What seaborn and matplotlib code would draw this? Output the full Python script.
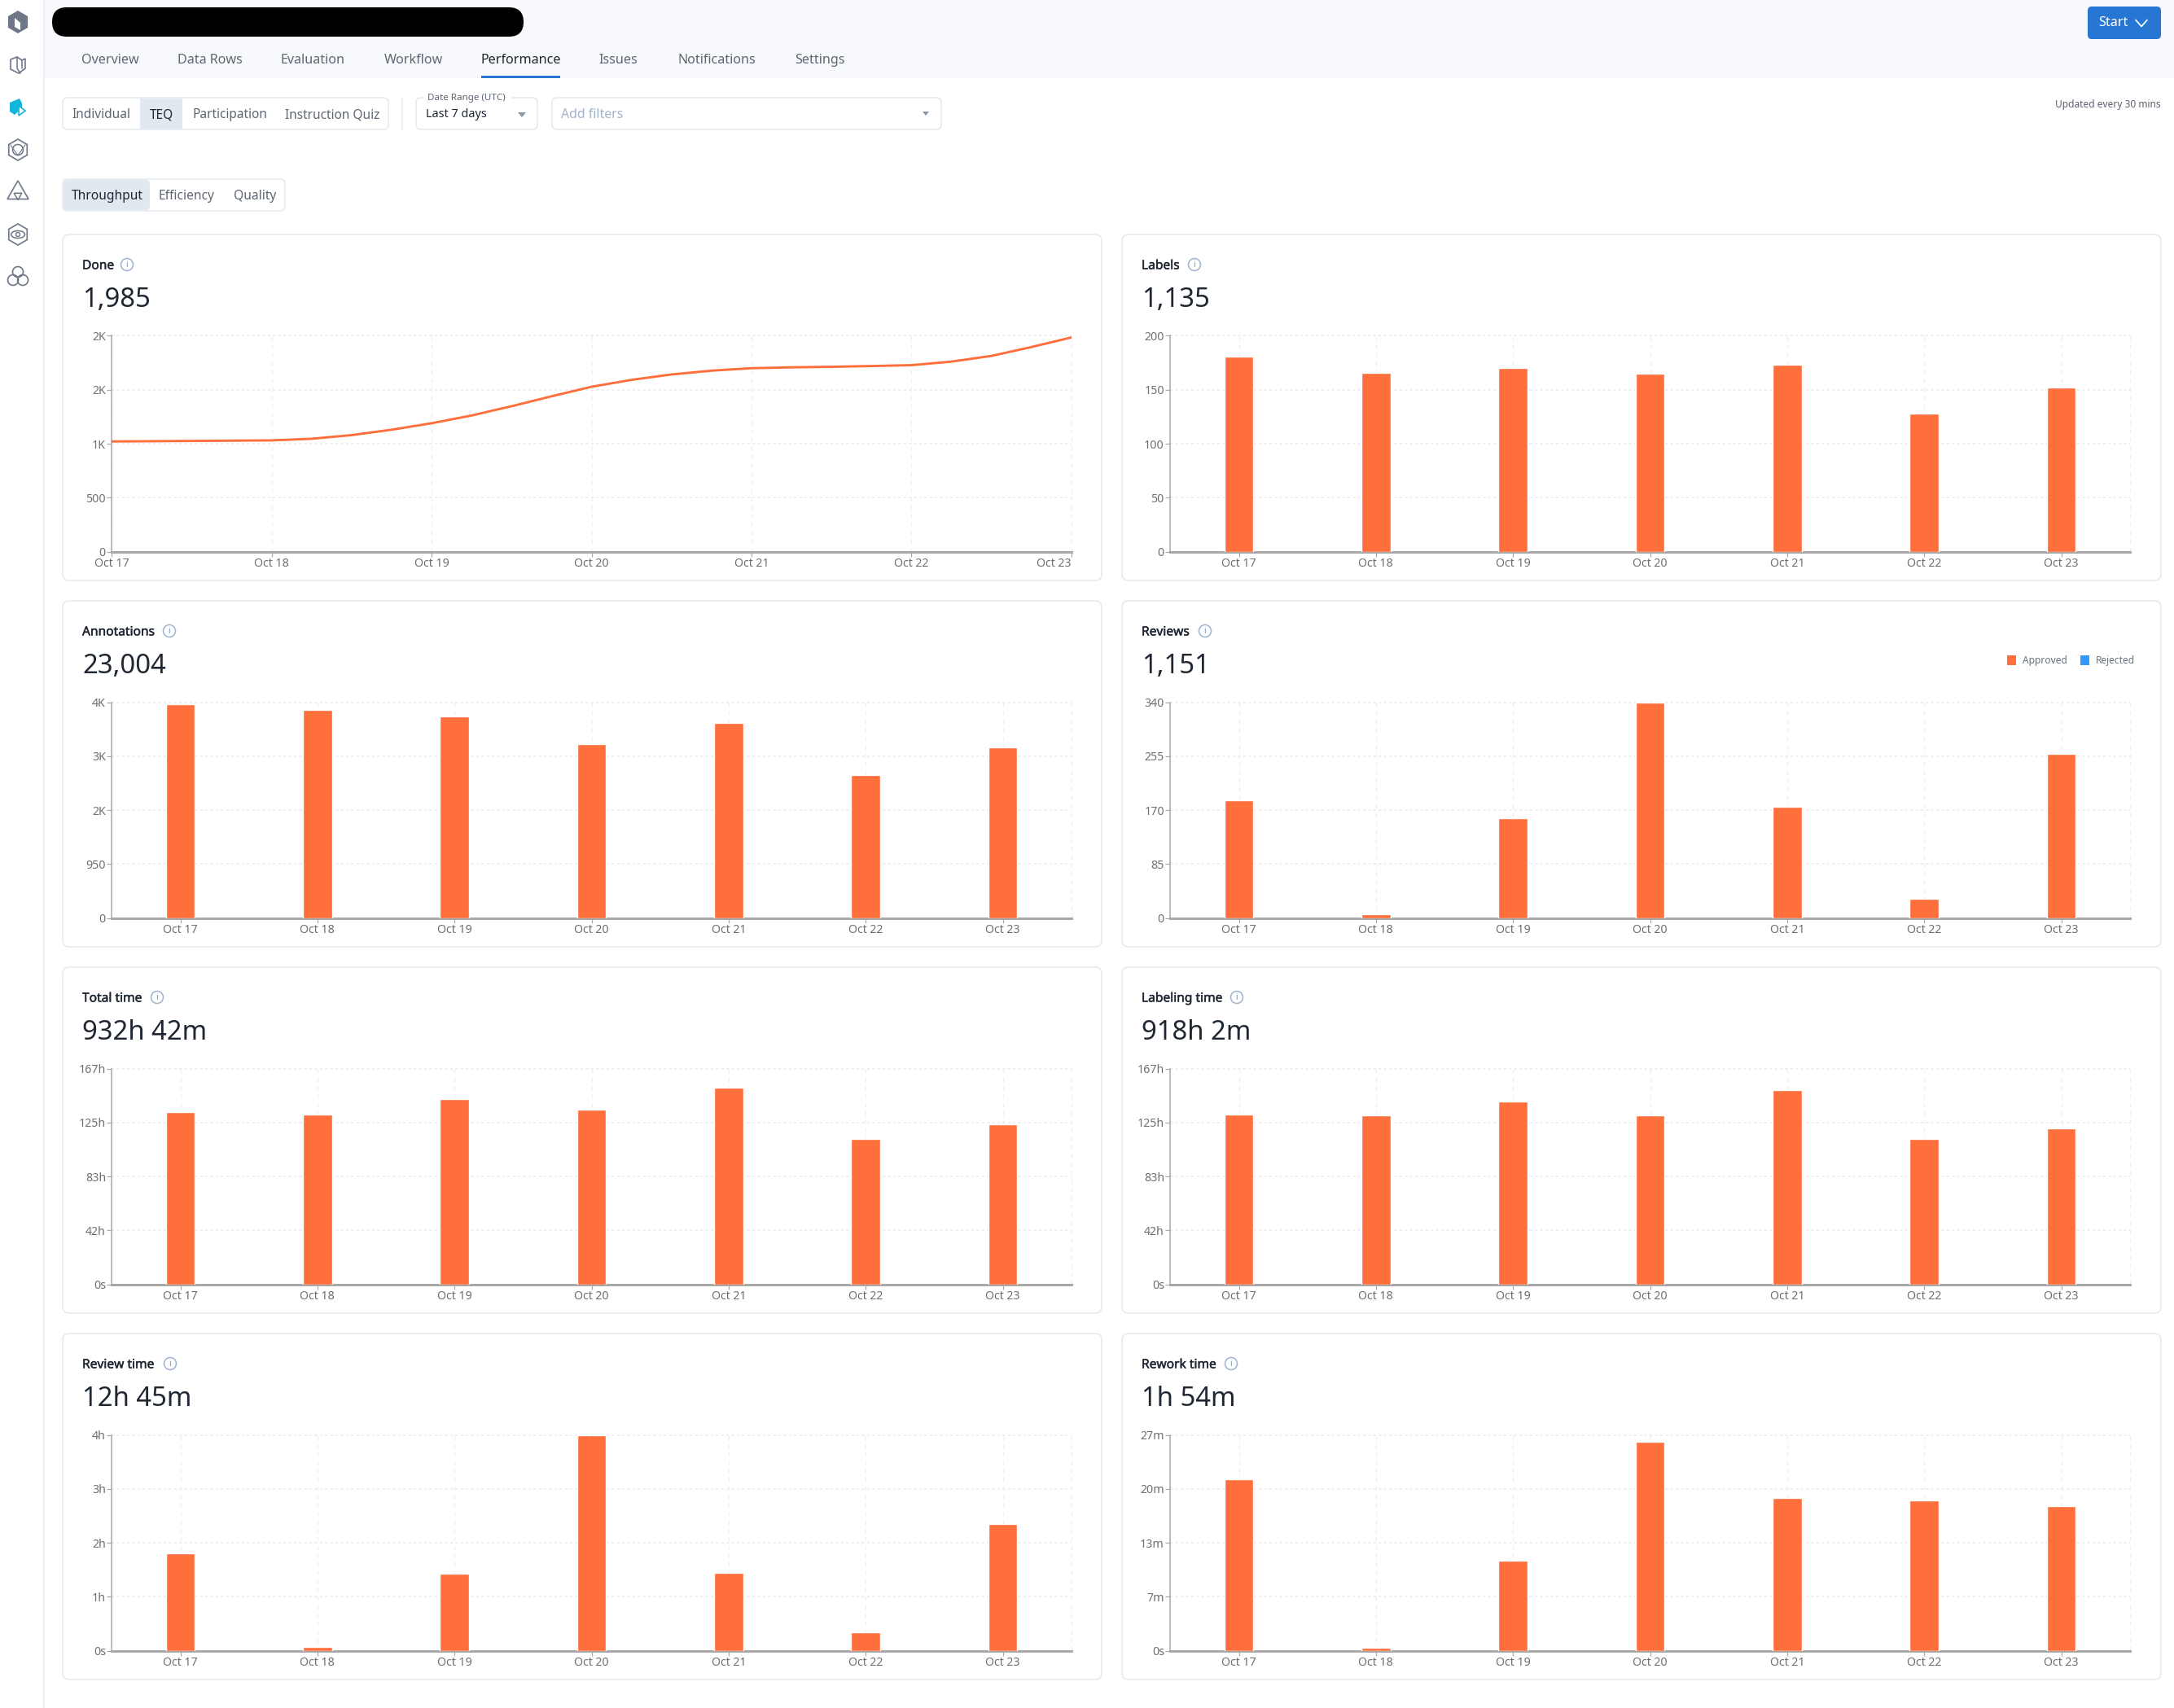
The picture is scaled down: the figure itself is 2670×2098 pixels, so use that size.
import numpy as np
import pandas as pd
import matplotlib
matplotlib.use("Agg")
import matplotlib.pyplot as plt
import matplotlib.patheffects as pe
from matplotlib.patches import FancyBboxPatch, Rectangle, Circle, RegularPolygon, Polygon, Ellipse, Patch
import seaborn as sns

sns.set_theme(style="white")
plt.rcParams['font.family'] = ['Noto Sans', 'DejaVu Sans']

# ---------- data ----------
days = ["Oct 17", "Oct 18", "Oct 19", "Oct 20", "Oct 21", "Oct 22", "Oct 23"]

done_x = [0, 0.5, 1, 1.25, 1.5, 1.75, 2, 2.25, 2.5, 2.75, 3, 3.25, 3.5, 3.75, 4, 4.25, 4.5, 4.75, 5, 5.25, 5.5, 5.75, 6]
done_y = [1021, 1026, 1031, 1046, 1080, 1130, 1190, 1262, 1348, 1440, 1528, 1592, 1642, 1677, 1700, 1708, 1713, 1720, 1728, 1761, 1814, 1896, 1985]

labels_v = [181, 166, 170, 165, 173, 128, 152]
annotations_v = [3757, 3667, 3552, 3065, 3438, 2520, 3005]
approved_v = [185, 6, 157, 340, 175, 30, 258]
rejected_v = [0, 0, 0, 0, 0, 0, 0]
total_time_v = [133.6, 131.1, 143.5, 135.3, 152.3, 112.8, 124.1]
labeling_time_v = [131.1, 130.9, 141.8, 130.5, 150.4, 112.2, 121.0]
review_time_v = [2.01, 0.084, 1.595, 4.445, 1.607, 0.386, 2.614]
rework_time_v = [21.2, 0.4, 11.17, 25.8, 18.9, 18.6, 17.9]

done_ticks = [0, 500, 1000, 1500, 2000]
done_ticklabels = ["0", "500", "1K", "2K", "2K"]
labels_ticks = [0, 50, 100, 150, 200]
labels_ticklabels = ["0", "50", "100", "150", "200"]
annotations_ticks = [0, 950, 1900, 2850, 3800]
annotations_ticklabels = ["0", "950", "2K", "3K", "4K"]
reviews_ticks = [0, 85, 170, 255, 340]
reviews_ticklabels = ["0", "85", "170", "255", "340"]
hours_ticks = [0, 41.75, 83.5, 125.25, 167]
hours_ticklabels = ["0s", "42h", "83h", "125h", "167h"]
review_ticks = [0, 1.1125, 2.225, 3.3375, 4.45]
review_ticklabels = ["0s", "1h", "2h", "3h", "4h"]
rework_ticks = [0, 6.667, 13.333, 20, 26.667]
rework_ticklabels = ["0s", "7m", "13m", "20m", "27m"]

nav_tabs = ["Overview", "Data Rows", "Evaluation", "Workflow", "Performance", "Issues", "Notifications", "Settings"]
view_tabs = ["Individual", "TEQ", "Participation", "Instruction Quiz"]
sub_tabs = ["Throughput", "Efficiency", "Quality"]
series_names = ["Approved", "Rejected"]

# ---------- style ----------
W, H = 2670, 2098
ORANGE = "#ff6f3c"
BLUE = "#3399ff"
AXIS = "#a8a8a8"
GRID = "#e9ebef"
TICK = "#6f6f6f"
DARK = "#1f2733"
BAR_W = 0.212
px = 0.72  # points per pixel at dpi 100

fig = plt.figure(figsize=(W / 100, H / 100), dpi=100, facecolor="white")
bg = fig.add_axes([0, 0, 1, 1], zorder=0)
bg.set_xlim(0, W)
bg.set_ylim(H, 0)
bg.axis("off")


def round_box(x0, y0, x1, y1, r=6, fc="white", ec="#e4e8ef", lw=1.5, ax=bg, z=1):
    p = FancyBboxPatch((x0, y0), x1 - x0, y1 - y0, boxstyle=f"round,pad=0,rounding_size={r}",
                       fc=fc, ec=ec, lw=lw * px, zorder=z)
    ax.add_patch(p)
    return p


def txt(x, y, s, size=11.6, color="#5e6673", ha="left", va="center", weight="normal", z=5):
    return bg.text(x, y + 1.5, s, fontsize=size, color=color, ha=ha, va=va, fontweight=weight, zorder=z)


# ---------- header ----------
bg.add_patch(Rectangle((54, 0), W - 54, 96, fc="#f7f9fc", ec="none", zorder=0.5))
bg.plot([53.5, 53.5], [0, H], color="#e8ebf3", lw=1.5 * px, zorder=0.6)
round_box(64, 9, 643, 45, r=18, fc="black", ec="black", lw=0)

nav_x = [100, 218, 345, 472, 591, 735, 833, 976]
for s, x in zip(nav_tabs, nav_x):
    active = s == "Performance"
    txt(x, 72.5, s, size=11.6, color=DARK if active else "#5e6673")
bg.add_patch(Rectangle((591, 93), 97, 3, fc="#2876d4", ec="none", zorder=2))

round_box(2564, 8, 2654, 48, r=5, fc="#2876d4", ec="#2876d4", lw=0)
txt(2577, 27, "Start", size=11.6, color="white")
bg.plot([2623, 2630, 2637], [24.5, 32.5, 24.5], color="white", lw=1.2, zorder=5)
txt(2654, 127, "Updated every 30 mins", size=8.6, ha="right", color="#5c6370")

# ---------- controls ----------
round_box(77, 120, 477, 159, r=6)
bg.add_patch(Rectangle((172, 121), 52, 37, fc="#e2e8f0", ec="none", zorder=2))
for s, x, c in zip(view_tabs, [88, 184, 236, 350], ["#5e6673", DARK, "#5e6673", "#5e6673"]):
    txt(x, 139.5, s, size=11.1, color=c)
bg.plot([494, 494], [120, 160], color="#e4e8ef", lw=1.5 * px, zorder=2)

round_box(511, 120, 660, 159, r=6)
bg.add_patch(Rectangle((520, 116), 108, 8, fc="white", ec="none", zorder=2))
txt(525, 119, "Date Range (UTC)", size=8.4, color="#5e6673")
txt(523, 139.5, "Last 7 days", size=10.4, color=DARK)
bg.add_patch(Polygon([[636, 138], [646, 138], [641, 144]], fc="#8895a7", ec="none", zorder=5))

round_box(678, 120, 1156, 159, r=6)
txt(689, 139.5, "Add filters", size=11.4, color="#a3b3c9")
bg.add_patch(Polygon([[1133, 137], [1141, 137], [1137, 142]], fc="#8895a7", ec="none", zorder=5))

round_box(77, 220, 350, 259, r=6)
bg.add_patch(FancyBboxPatch((78, 221), 106, 37, boxstyle="round,pad=0,rounding_size=5",
                            fc="#e2e8f0", ec="none", zorder=2))
for s, x, c in zip(sub_tabs, [88, 195, 287], [DARK, "#5e6673", "#5e6673"]):
    txt(x, 239.5, s, size=11.2, color=c)

# ---------- sidebar icons ----------
ICON = "#6d7787"
CY = "#12b5dc"
ix = 22


def hexa(y, r=11, **kw):
    bg.add_patch(RegularPolygon((ix, y), 6, radius=r, fc=kw.get("fc", "none"), ec=kw.get("ec", ICON), lw=1.2, zorder=5))


hexa(27, r=13, fc=ICON)
bg.add_patch(Polygon([[18, 22], [25, 28], [25, 37], [18, 33]], fc="white", ec="none", zorder=6))
bg.add_patch(Polygon([[13, 73], [21, 70], [27, 74], [31, 72], [31, 84], [23, 90], [13, 85]], fc="none", ec=ICON, lw=1.2, zorder=5))
bg.plot([21, 21, 25], [70, 84, 90], color=ICON, lw=1.1, zorder=5)
bg.plot([27, 27], [74, 84], color=ICON, lw=1.1, zorder=5)
bg.add_patch(Polygon([[12, 126], [24, 121], [27, 127], [27, 133], [18, 141], [12, 137]], fc=CY, ec="none", zorder=5))
bg.add_patch(Polygon([[23, 130], [31, 136], [23, 142]], fc="white", ec=CY, lw=1.2, zorder=6))
hexa(184, r=13)
bg.add_patch(Circle((ix, 184), 6.5, fc="none", ec=ICON, lw=1.1, zorder=5))
bg.plot([13, 22, 31], [178, 191, 178], color=ICON, lw=0.8, zorder=5)
bg.add_patch(RegularPolygon((ix, 237), 3, radius=15, orientation=np.pi, fc="none", ec=ICON, lw=1.2, zorder=5))
bg.add_patch(RegularPolygon((ix, 240), 3, radius=5.5, orientation=0, fc="none", ec=ICON, lw=1.1, zorder=5))
hexa(288, r=13)
bg.add_patch(Ellipse((ix, 288), 17, 9, fc="none", ec=ICON, lw=1.1, zorder=5))
bg.add_patch(Circle((ix, 288), 2.5, fc="none", ec=ICON, lw=1.0, zorder=5))
for cx, cy in [(22, 334), (16, 344), (28, 344)]:
    bg.add_patch(Circle((cx, cy), 6.5, fc="none", ec=ICON, lw=1.2, zorder=5))


# ---------- panels ----------
def style_axes(ax, ticks, ticklabels, ymax):
    ax.set_ylim(0, ymax)
    ax.set_yticks(ticks)
    ax.set_yticklabels(ticklabels)
    ax.set_xlabel("")
    ax.set_ylabel("")
    ax.patch.set_alpha(0)
    for side in ["top", "right"]:
        ax.spines[side].set_visible(False)
    ax.spines["left"].set_color(AXIS)
    ax.spines["left"].set_linewidth(1.5 * px)
    ax.spines["bottom"].set_color(AXIS)
    ax.spines["bottom"].set_linewidth(3 * px)
    ax.tick_params(axis="both", which="major", length=6 * px, width=1.2 * px, color=AXIS,
                   labelsize=10.2, labelcolor=TICK, pad=1.5 * px, left=True, bottom=True)
    ax.set_axisbelow(True)
    ax.grid(False)
    ax.yaxis.grid(True, color=GRID, lw=1.6 * px, linestyle=(0, (2, 2)))
    ax.xaxis.grid(True, color="#eff0f3", lw=1.3 * px, linestyle=(0, (4, 4)))
    for l in ax.get_ygridlines() + ax.get_xgridlines():
        l.set_clip_on(False)
    for t in ax.get_yticklabels() + ax.get_xticklabels():
        t.set_fontfamily(['Noto Sans', 'DejaVu Sans'])


def panel_frame(col, row, title, value, title_w):
    x0 = [77, 1378][col]
    y0 = 288 + 450 * row
    round_box(x0, y0, x0 + 1276, y0 + 425, r=8)
    t = txt(x0 + 24, y0 + 37, title, size=11.2, color=DARK)
    t.set_path_effects([pe.withStroke(linewidth=0.3, foreground=DARK)])
    cx = x0 + 24 + title_w + 16
    bg.add_patch(Circle((cx, y0 + 37), 7.5, fc="white", ec="#9fb3d1", lw=1.1, zorder=5))
    txt(cx, y0 + 36.5, "i", size=7.5, color="#7f97bb", ha="center")
    txt(x0 + 24, y0 + 79, value, size=23.6, color=DARK)
    left = [137.4, 1437.4][col]
    width = 1178.4
    top = y0 + 124.5
    bottom = y0 + 389.6
    ax = fig.add_axes([left / W, 1 - bottom / H, width / W, (bottom - top) / H], zorder=2)
    return ax


def bar_panel(col, row, title, value, title_w, values, ticks, ticklabels, ymax):
    ax = panel_frame(col, row, title, value, title_w)
    df = pd.DataFrame({"day": days, "value": values})
    sns.barplot(data=df, x="day", y="value", color=ORANGE, saturation=1, width=BAR_W, ax=ax, zorder=3)
    style_axes(ax, ticks, ticklabels, ymax)
    ax.set_xlim(-0.5, 6.5)
    ax.axvline(6.5, color="#eff0f3", lw=1.3 * px, linestyle=(0, (4, 4)), zorder=1, clip_on=False)
    return ax


# Done (line)
ax = panel_frame(0, 0, "Done", "1,985", 39)
df_done = pd.DataFrame({"x": done_x, "y": done_y})
sns.lineplot(data=df_done, x="x", y="y", color=ORANGE, lw=2.9 * px, ax=ax, zorder=3, errorbar=None,
             solid_joinstyle="round")
style_axes(ax, done_ticks, done_ticklabels, 2000)
ax.set_xlim(0, 6)
ax.set_xticks(range(7))
ax.set_xticklabels(days)
ax.xaxis.grid(True, color="#eff0f3", lw=1.3 * px, linestyle=(0, (4, 4)))
ax.get_xticklabels()[-1].set_ha("right")

bar_panel(1, 0, "Labels", "1,135", 49, labels_v, labels_ticks, labels_ticklabels, 200)
bar_panel(0, 1, "Annotations", "23,004", 91, annotations_v, annotations_ticks, annotations_ticklabels, 3800)

# Reviews: stacked approved + rejected
ax = panel_frame(1, 1, "Reviews", "1,151", 62)
df_rev = pd.DataFrame({"day": days, "approved": approved_v, "rejected": rejected_v})
df_rev["stack"] = df_rev["approved"] + df_rev["rejected"]
sns.barplot(data=df_rev, x="day", y="stack", color=BLUE, saturation=1, width=BAR_W, ax=ax, zorder=3)
sns.barplot(data=df_rev, x="day", y="approved", color=ORANGE, saturation=1, width=BAR_W, ax=ax, zorder=4)
style_axes(ax, reviews_ticks, reviews_ticklabels, 340)
ax.set_xlim(-0.5, 6.5)
ax.axvline(6.5, color="#eff0f3", lw=1.3 * px, linestyle=(0, (4, 4)), zorder=1, clip_on=False)
handles = [Patch(fc=ORANGE, ec="none", label=series_names[0]), Patch(fc=BLUE, ec="none", label=series_names[1])]
leg = ax.legend(handles=handles, ncol=2, frameon=False, loc="center right",
                bbox_to_anchor=(2622 / W, 1 - 811.5 / H), bbox_transform=fig.transFigure,
                fontsize=8.6, labelcolor="#6a7280", handlelength=0.9, handleheight=1.25,
                handletextpad=0.7, columnspacing=1.3, borderpad=0, borderaxespad=0)

bar_panel(0, 2, "Total time", "932h 42m", 76, total_time_v, hours_ticks, hours_ticklabels, 167)
bar_panel(1, 2, "Labeling time", "918h 2m", 101, labeling_time_v, hours_ticks, hours_ticklabels, 167)
bar_panel(0, 3, "Review time", "12h 45m", 92, review_time_v, review_ticks, review_ticklabels, 4.45)
bar_panel(1, 3, "Rework time", "1h 54m", 94, rework_time_v, rework_ticks, rework_ticklabels, 26.667)

fig.savefig("out.png", dpi=100, facecolor="white")
